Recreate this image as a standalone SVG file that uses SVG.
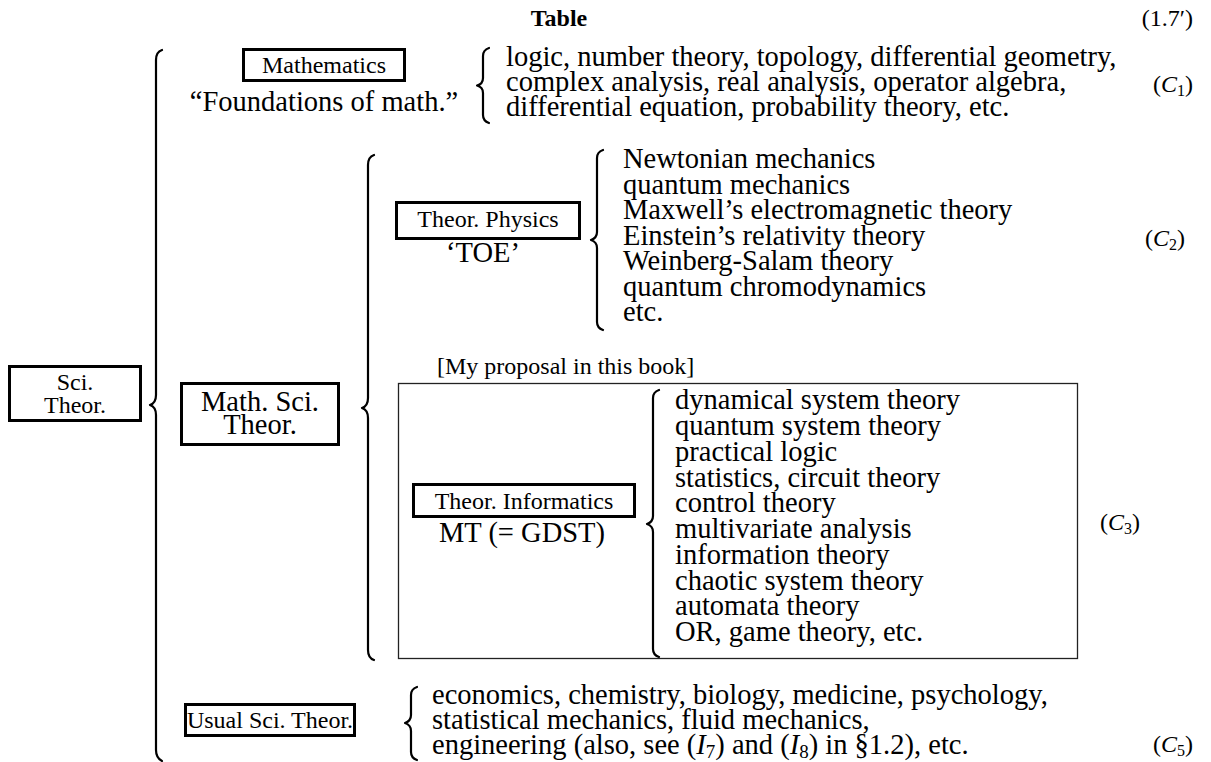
<svg xmlns="http://www.w3.org/2000/svg" width="1211" height="762" viewBox="0 0 1211 762">
<style>
text{font-family:"Liberation Serif","DejaVu Serif",serif;fill:#000}
.m{font-size:28.5px}
.s{font-size:24px}
.b{font-weight:bold}
.it{font-style:italic}
.box{fill:#fff;stroke:#000;stroke-width:3}
.pbox{fill:none;stroke:#222;stroke-width:1.3}
.brace{fill:none;stroke:#000;stroke-width:2.2;stroke-linecap:round;stroke-linejoin:round}
</style>
<rect width="1211" height="762" fill="#fff"/>
<g id="title">
<text class="s b" x="559" y="26" text-anchor="middle">Table</text>
<text class="s" x="1193" y="26" text-anchor="end">(1.7′)</text>
</g>
<g id="connectors">
<path class="brace" d="M162,50 Q156,52 156,60 L156,395 Q156,403 150,405 Q156,407 156,415 L156,750 Q156,758 162,761"/>
<path class="brace" d="M374,155 Q368,157 368,165 L368,398 Q368,406 362,408 Q368,410 368,418 L368,650 Q368,658 374,660"/>
<path class="brace" d="M489,48 Q483,50 483,56 L483,78 Q483,84 477,85.5 Q483,87 483,93 L483,115 Q483,121 489,123"/>
<path class="brace" d="M603,150 Q597,152 597,158 L597,232 Q597,238 591,240 Q597,242 597,248 L597,322 Q597,328 603,330"/>
<path class="brace" d="M659,390 Q653,392 653,398 L653,516 Q653,522 647,524 Q653,526 653,532 L653,649 Q653,655 659,657"/>
<path class="brace" d="M417,687 Q411,689 411,695 L411,715 Q411,721 405,723 Q411,725 411,731 L411,752 Q411,758 417,760"/>
</g>
<g id="sci-theor">
<rect class="box" x="9.5" y="366.5" width="131" height="54"/>
<text class="s" x="75" y="390" text-anchor="middle">Sci.</text>
<text class="s" x="75" y="413" text-anchor="middle">Theor.</text>
</g>
<g id="math-sci-theor">
<rect class="box" x="181.5" y="383.5" width="157" height="61"/>
<text class="m" x="260" y="411" text-anchor="middle">Math. Sci.</text>
<text class="m" x="260" y="434" text-anchor="middle">Theor.</text>
</g>
<g id="mathematics">
<rect class="box" x="243.5" y="49.5" width="161" height="31"/>
<text class="s" x="324" y="73" text-anchor="middle">Mathematics</text>
<text class="m" x="324" y="111" text-anchor="middle">“Foundations of math.”</text>
</g>
<g id="c1">
<text class="m" x="506" y="66">logic, number theory, topology, differential geometry,</text>
<text class="m" x="506" y="91">complex analysis, real analysis, operator algebra,</text>
<text class="m" x="506" y="116">differential equation, probability theory, etc.</text>
<text class="s" x="1193" y="92" text-anchor="end">(<tspan class="it">C</tspan><tspan font-size="16" dy="4">1</tspan><tspan dy="-4">)</tspan></text>
</g>
<g id="theor-physics">
<rect class="box" x="396.5" y="202.5" width="183" height="36"/>
<text class="s" x="488" y="227" text-anchor="middle">Theor. Physics</text>
<text class="m" x="483" y="262" text-anchor="middle">‘TOE’</text>
</g>
<g id="c2">
<text class="m" x="623" y="168">Newtonian mechanics</text>
<text class="m" x="623" y="193.5">quantum mechanics</text>
<text class="m" x="623" y="219">Maxwell’s electromagnetic theory</text>
<text class="m" x="623" y="244.5">Einstein’s relativity theory</text>
<text class="m" x="623" y="270">Weinberg-Salam theory</text>
<text class="m" x="623" y="295.5">quantum chromodynamics</text>
<text class="m" x="623" y="321">etc.</text>
<text class="s" x="1165" y="246" text-anchor="middle">(<tspan class="it">C</tspan><tspan font-size="16" dy="4">2</tspan><tspan dy="-4">)</tspan></text>
</g>
<g id="proposal">
<text class="s" x="437" y="374">[My proposal in this book]</text>
<rect class="pbox" x="398.5" y="383.5" width="679" height="275"/>
</g>
<g id="theor-informatics">
<rect class="box" x="413.5" y="484.5" width="221" height="32"/>
<text class="s" x="524" y="509" text-anchor="middle">Theor. Informatics</text>
<text class="m" x="522" y="542" text-anchor="middle">MT (= GDST)</text>
</g>
<g id="c3">
<text class="m" x="675" y="409">dynamical system theory</text>
<text class="m" x="675" y="435">quantum system theory</text>
<text class="m" x="675" y="460.5">practical logic</text>
<text class="m" x="675" y="486.5">statistics, circuit theory</text>
<text class="m" x="675" y="512">control theory</text>
<text class="m" x="675" y="538">multivariate analysis</text>
<text class="m" x="675" y="564">information theory</text>
<text class="m" x="675" y="589.5">chaotic system theory</text>
<text class="m" x="675" y="615">automata theory</text>
<text class="m" x="675" y="641">OR, game theory, etc.</text>
<text class="s" x="1120" y="530" text-anchor="middle">(<tspan class="it">C</tspan><tspan font-size="16" dy="4">3</tspan><tspan dy="-4">)</tspan></text>
</g>
<g id="usual-sci-theor">
<rect class="box" x="185.5" y="704.5" width="169" height="31"/>
<text class="s" x="270" y="728" text-anchor="middle">Usual Sci. Theor.</text>
</g>
<g id="c5">
<text class="m" x="432" y="704">economics, chemistry, biology, medicine, psychology,</text>
<text class="m" x="432" y="729">statistical mechanics, fluid mechanics,</text>
<text class="m" x="432" y="754">engineering (also, see (<tspan class="it">I</tspan><tspan font-size="19" dy="4">7</tspan><tspan dy="-4">) and (</tspan><tspan class="it">I</tspan><tspan font-size="19" dy="4">8</tspan><tspan dy="-4">) in §1.2), etc.</tspan></text>
<text class="s" x="1193" y="752" text-anchor="end">(<tspan class="it">C</tspan><tspan font-size="16" dy="4">5</tspan><tspan dy="-4">)</tspan></text>
</g>
</svg>
